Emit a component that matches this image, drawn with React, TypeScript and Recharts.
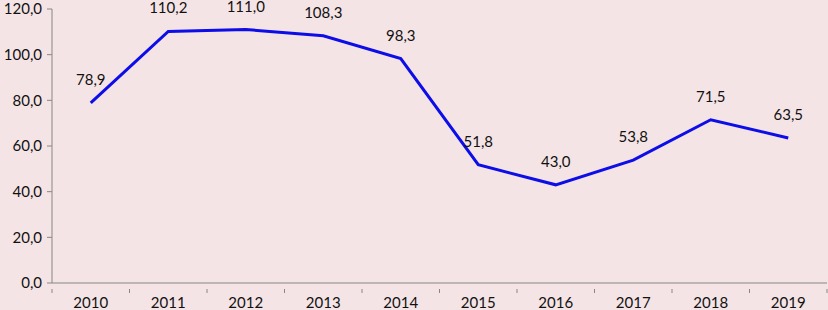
import { LabelList, Line, LineChart, XAxis, YAxis } from "recharts";

const years = ["2010", "2011", "2012", "2013", "2014", "2015", "2016", "2017", "2018", "2019"];
const values = [78.9, 110.2, 111.0, 108.3, 98.3, 51.8, 43.0, 53.8, 71.5, 63.5];
const yTicks = [0, 20, 40, 60, 80, 100, 120];

const W = 828;
const H = 310;
const M = { top: 9, right: 1, bottom: 0, left: 0 };
const Y_W = 52;
const X_H = 27;
const band = (W - M.left - M.right - Y_W) / years.length;

const AXIS = "#868686";
const TEXT = "#111";
const FONT = "Lato, 'Open Sans', sans-serif";

const fmt = (v: number) => v.toFixed(1).replace(".", ",");

const data = years.map((y, i) => ({ year: y, value: values[i] }));

function XTick(props: any) {
  const { x, y, payload, index } = props;
  const top = y - 10;
  return (
    <g>
      <line x1={x - band / 2} x2={x - band / 2} y1={top} y2={top + 4} stroke={AXIS} />
      {index === years.length - 1 && (
        <line x1={x + band / 2} x2={x + band / 2} y1={top} y2={top + 4} stroke={AXIS} />
      )}
      <text x={x} y={top + 19} textAnchor="middle" fill={TEXT} fontSize={15} fontFamily={FONT}>
        {payload.value}
      </text>
    </g>
  );
}

function ValueLabel(props: any) {
  const { x, y, value } = props;
  return (
    <text x={x} y={y - 18} textAnchor="middle" fill={TEXT} fontSize={15} fontFamily={FONT}>
      {fmt(value)}
    </text>
  );
}

export default function App() {
  return (
    <div style={{ position: "absolute", left: 0, top: 0, width: W, height: H, background: "#f5e4e6" }}>
      <LineChart width={W} height={H} data={data} margin={M}>
        <XAxis
          dataKey="year"
          height={X_H}
          stroke={AXIS}
          tickLine={false}
          tickMargin={10}
          interval={0}
          padding={{ left: band / 2, right: band / 2 }}
          tick={<XTick />}
        />
        <YAxis
          width={Y_W}
          domain={[0, 120]}
          ticks={yTicks}
          interval={0}
          stroke={AXIS}
          tickSize={5}
          tickMargin={5}
          tickFormatter={fmt}
          tick={{ fill: TEXT, fontSize: 15, fontFamily: FONT }}
        />
        <Line
          type="linear"
          dataKey="value"
          stroke="#0d0de8"
          strokeWidth={3}
          dot={false}
          isAnimationActive={false}
        >
          <LabelList dataKey="value" content={<ValueLabel />} />
        </Line>
      </LineChart>
    </div>
  );
}
